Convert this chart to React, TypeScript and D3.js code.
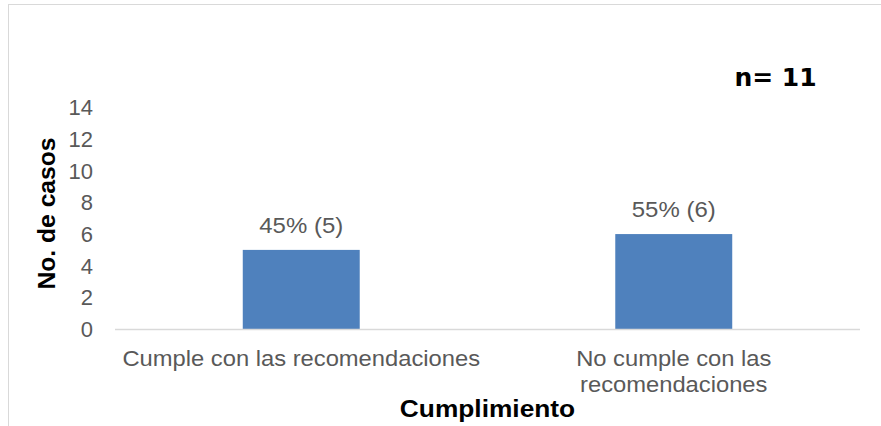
import React from "react";
import * as d3 from "d3";

const categories = ["Cumple con las recomendaciones", "No cumple con las recomendaciones"];
const categoryLines = [["Cumple con las recomendaciones"], ["No cumple con las", "recomendaciones"]];
const values = [5, 6];
const valueLabels = ["45% (5)", "55% (6)"];
const yTicks = [0, 2, 4, 6, 8, 10, 12, 14];

const font = "'Liberation Sans', Arial, sans-serif";

function T(props: {
  x: number; y: number; sx?: number; rot?: number; size: number; bold?: boolean; fill: string;
  anchor?: "start" | "middle" | "end"; family?: string; children: React.ReactNode;
}) {
  const { x, y, sx = 1, rot = 0, size, bold, fill, anchor = "middle", family = font, children } = props;
  return (
    <g transform={`translate(${x},${y}) rotate(${rot}) scale(${sx},1)`}>
      <text x={0} y={0} textAnchor={anchor} fontFamily={family} fontSize={size} fontWeight={bold ? "bold" : "normal"} fill={fill}>
        {children}
      </text>
    </g>
  );
}

export default function App() {
  const W = 881, H = 426;
  const left = 115, right = 860, top = 107.5, bottom = 329;
  const x = d3.scaleBand<string>().domain(categories).range([left, right]).padding(0);
  const y = d3.scaleLinear().domain([0, 14]).range([bottom, top]);
  const barW = x.bandwidth() * 0.314;
  const grey = "#595959";
  return (
    <svg width={W} height={H} style={{ position: "absolute", left: 0, top: 0 }}>
      <rect x={0} y={0} width={W} height={H} fill="#fff" />
      <line x1={8.5} y1={4} x2={8.5} y2={H} stroke="#d9d9d9" strokeWidth={1} />
      <line x1={8} y1={4.5} x2={W} y2={4.5} stroke="#d9d9d9" strokeWidth={1} />
      {yTicks.map((t) => (
        <text key={t} x={93} y={y(t)} dy="0.36em" textAnchor="end" fontFamily={font} fontSize={22} fill={grey}>
          {t}
        </text>
      ))}
      {categories.map((c, i) => {
        const cx = (x(c) as number) + x.bandwidth() / 2;
        return (
          <g key={c}>
            <rect x={cx - barW / 2} y={y(values[i])} width={barW} height={bottom - y(values[i])} fill="#4f81bd" />
            <T x={cx} y={y(values[i]) - 17} sx={1.09} size={22} fill={grey}>
              {valueLabels[i]}
            </T>
            {categoryLines[i].map((ln, j) => (
              <T key={j} x={cx} y={365.5 + j * 26} sx={1.08} size={22} fill={grey}>
                {ln}
              </T>
            ))}
          </g>
        );
      })}
      <line x1={left} x2={right} y1={bottom + 0.5} y2={bottom + 0.5} stroke="#d9d9d9" strokeWidth={1.5} />
      <T x={487.5} y={417} sx={1.12} size={23.5} bold fill="#000">
        Cumplimiento
      </T>
      <T x={55} y={213.5} rot={-90} sx={1.05} size={23.5} bold fill="#000">
        No. de casos
      </T>
      <T x={775.5} y={86} size={25} bold fill="#000" family="'DejaVu Sans', sans-serif">
        n= 11
      </T>
    </svg>
  );
}
